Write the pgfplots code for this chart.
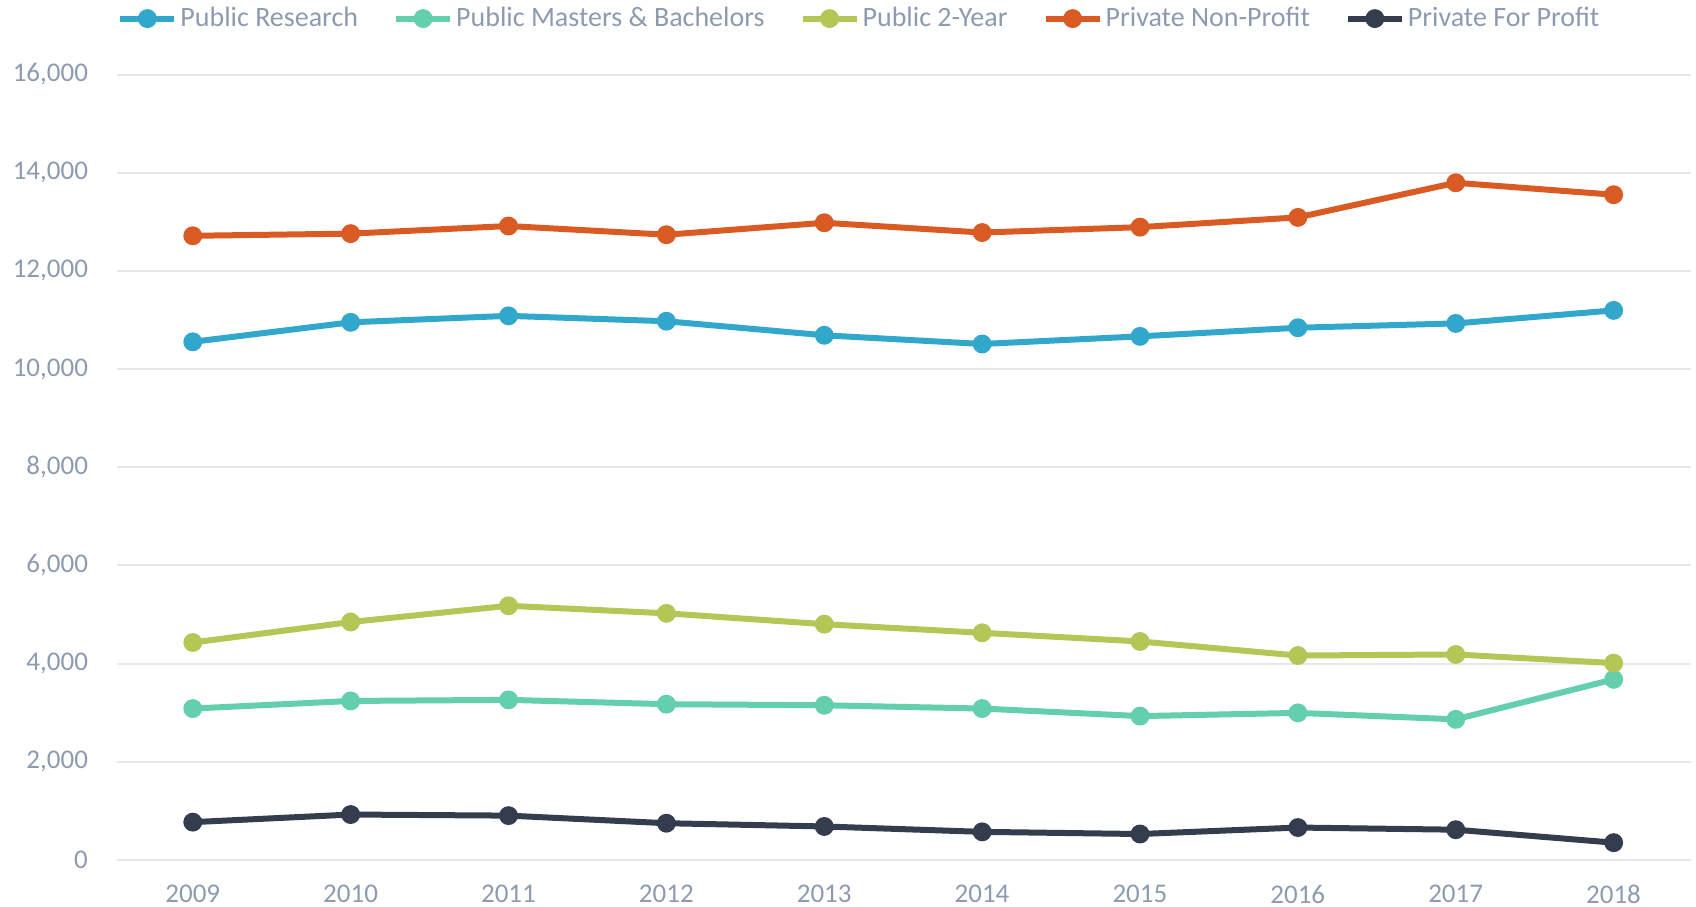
\documentclass[border=0pt]{standalone}
\usepackage{pgfplots}
\pgfplotsset{compat=1.18}
\usepackage{fontspec}
\setmainfont{Carlito}
\usetikzlibrary{calc}
\definecolor{pubres}{HTML}{31A7CB}
\definecolor{pubmb}{HTML}{63CFAE}
\definecolor{pub2y}{HTML}{B4C656}
\definecolor{privnp}{HTML}{DA5A24}
\definecolor{privfp}{HTML}{343D4D}
\definecolor{txt}{HTML}{8C9BB0}
\definecolor{grd}{HTML}{E4E8EE}
\begin{document}
\begin{tikzpicture}
\begin{axis}[
  name=ax,
  scale only axis,
  width=787pt, height=392.7pt,
  axis line style={draw=none},
  major tick length=0pt,
  xmin=2008.52, xmax=2018.49,
  ymin=0, ymax=16000,
  xtick={2009,...,2018},
  ytick={0,2000,...,16000},
  scaled y ticks=false,
  ymajorgrids,
  grid style={draw=grd, line width=1pt},
  font=\fontsize{13.5pt}{16pt}\selectfont,
  tick label style={text=txt},
  /pgf/number format/assume math mode=true,
  xticklabel style={/pgf/number format/1000 sep={}, yshift=-9pt},
  yticklabel style={/pgf/number format/1000 sep={,}, xshift=-11pt},
  every axis plot/.append style={line width=3pt, mark=*, mark size=3.2pt},
  legend columns=-1,
  legend style={at={(0,1)}, anchor=west, yshift=28pt, xshift=0pt, draw=none, fill=none,
    text=txt, font=\fontsize{14pt}{16pt}\selectfont, inner xsep=0pt,
    nodes={inner xsep=1.5pt},
    /tikz/every even column/.append style={column sep=16pt},
    /tikz/every odd column/.append style={column sep=0pt}},
  legend image code/.code={\draw[mark repeat=2, mark phase=2] plot coordinates {(0cm,0cm) (13.5pt,0cm) (27pt,0cm)};},
]
\addplot[color=pubres] coordinates {(2009,10556) (2010,10953) (2011,11085) (2012,10975) (2013,10689) (2014,10512) (2015,10667) (2016,10843) (2017,10931) (2018,11196)};
\addlegendentry{Public Research}
\addplot[color=pubmb] coordinates {(2009,3085) (2010,3240) (2011,3262) (2012,3174) (2013,3152) (2014,3085) (2015,2931) (2016,2997) (2017,2865) (2018,3680)};
\addlegendentry{Public Masters \& Bachelors}
\addplot[color=pub2y] coordinates {(2009,4430) (2010,4848) (2011,5179) (2012,5025) (2013,4804) (2014,4628) (2015,4452) (2016,4165) (2017,4187) (2018,4011)};
\addlegendentry{Public 2-Year}
\addplot[color=privnp] coordinates {(2009,12716) (2010,12760) (2011,12915) (2012,12738) (2013,12981) (2014,12782) (2015,12892) (2016,13091) (2017,13796) (2018,13553)};
\addlegendentry{Private Non-Profit}
\addplot[color=privfp] coordinates {(2009,771) (2010,926) (2011,904) (2012,749) (2013,683) (2014,573) (2015,529) (2016,661) (2017,617) (2018,353)};
\addlegendentry{Private For Profit}
\end{axis}
\pgfresetboundingbox
\useasboundingbox ($(ax.south west)+(-58.5pt,-23.5pt)$) rectangle ($(ax.north east)+(2.5pt,37.3pt)$);
\end{tikzpicture}
\end{document}
